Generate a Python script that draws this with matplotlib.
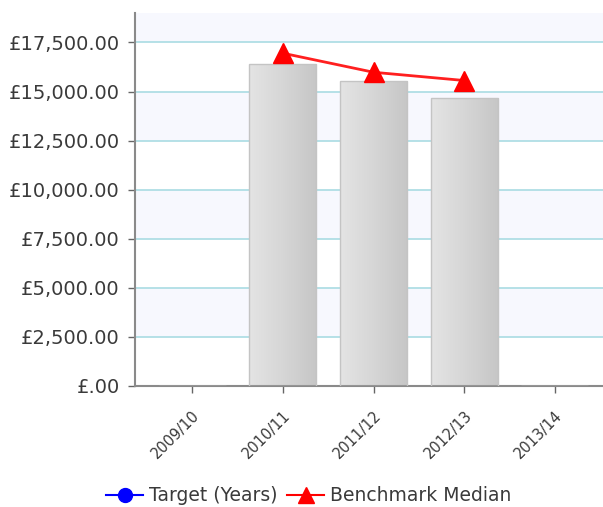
import matplotlib
matplotlib.use("Agg")
import matplotlib.pyplot as plt
import numpy as np
from matplotlib.ticker import FuncFormatter
from matplotlib.lines import Line2D
from matplotlib.colors import LinearSegmentedColormap

categories = ["2009/10", "2010/11", "2011/12", "2012/13", "2013/14"]
bar_values = [np.nan, 16380, 15520, 14650, np.nan]
benchmark_median = [np.nan, 16950, 15980, 15560, np.nan]
target_years = [np.nan, np.nan, np.nan, np.nan, np.nan]
yticks = [0, 2500, 5000, 7500, 10000, 12500, 15000, 17500]

fig = plt.figure(figsize=(6.03, 5.07), dpi=100)
ax = fig.add_axes([0.224, 0.2387, 0.776, 0.7357])
ymax = 19000

# alternating bands
edges = yticks + [ymax]
for i in range(len(edges) - 1):
    if i % 2 == 1:
        ax.axhspan(edges[i], edges[i + 1], color="#f7f8fe", zorder=0, lw=0)
for y in yticks[1:]:
    ax.axhline(y, color="#a9dce3", lw=1.2, zorder=1)

x = np.arange(len(categories))
bars = ax.bar(x, np.nan_to_num(bar_values), width=0.74, facecolor="none",
              edgecolor="#c4c4c4", lw=1.0, zorder=3)
grad = np.linspace(0, 1, 256).reshape(1, -1)
cmap = LinearSegmentedColormap.from_list("g", ["#e4e4e4", "#d6d6d6", "#c6c6c6"])
for b, v in zip(bars, bar_values):
    if np.isnan(v):
        continue
    x0 = b.get_x(); w = b.get_width()
    im = ax.imshow(grad, extent=[x0, x0 + w, 0, v], aspect="auto", cmap=cmap,
                   zorder=2, interpolation="bilinear")
    im.set_clip_path(b)
ax.set_xlim(-0.63, 4.53)
ax.set_ylim(0, ymax)

ax.plot(x, benchmark_median, color="#ff2020", lw=2, marker="^", markersize=14,
        markerfacecolor="red", markeredgecolor="red", zorder=5)
ax.plot(x, target_years, color="blue", marker="o", zorder=5)

ax.set_yticks(yticks)
ax.yaxis.set_major_formatter(FuncFormatter(lambda v, p: "£.00" if v == 0 else "£{:,.2f}".format(v)))
ax.set_xticks(x)
ax.set_xticklabels(categories, rotation=45, ha="right", rotation_mode="anchor")
ax.tick_params(axis="y", labelsize=14, colors="#666666", labelcolor="#3a3a3a", length=5, width=1, pad=6)
ax.tick_params(axis="x", labelsize=10.5, colors="#666666", labelcolor="#3a3a3a", length=5, width=1, pad=11)
for s in ["top", "right"]:
    ax.spines[s].set_visible(False)
for s in ["left", "bottom"]:
    ax.spines[s].set_color("#8a8a8a")
    ax.spines[s].set_linewidth(1.5)

handles = [Line2D([], [], color="blue", marker="o", markersize=10, lw=1.5),
           Line2D([], [], color="red", marker="^", markersize=12, lw=1.5)]
fig.legend(handles, ["Target (Years)", "Benchmark Median"], loc="center",
           bbox_to_anchor=(0.512, 0.022), ncol=2, frameon=False, fontsize=13.5,
           handlelength=2.0, handletextpad=0.3, columnspacing=0.5, labelcolor="#3a3a3a")

fig.savefig("out.png", dpi=100)
